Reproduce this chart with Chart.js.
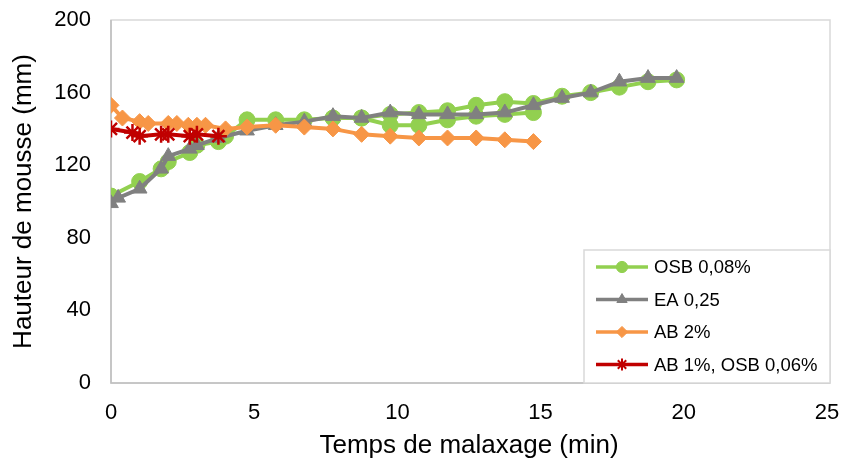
<!DOCTYPE html>
<html>
<head>
<meta charset="utf-8">
<script src="https://cdn.jsdelivr.net/npm/chart.js@4.4.1/dist/chart.umd.min.js"></script>
<style>
  html, body { margin: 0; background: #fff; }
</style>
</head>
<body>
<canvas id="chart" width="845" height="462"></canvas>
<script>
// temps de malaxage (min) / hauteur de mousse (mm)
const osbTime   = [0, 1, 1.75, 2, 2.75, 3, 3.75, 4, 4.75, 5.75, 6.75, 7.75, 8.75, 9.75, 10.75, 11.75, 12.75, 13.75, 14.75, 15.75, 16.75, 17.75, 18.75, 19.75];
const osbHeight = [103, 111, 118, 122, 127, 131, 133, 136, 145, 145, 145, 146, 146, 148, 149, 150, 153, 155, 154, 158, 160, 163, 166, 167];
// second run of OSB 0,08% (same style, not in legend)
const osbBisTime   = [8.75, 9.75, 10.75, 11.75, 12.75, 13.75, 14.75];
const osbBisHeight = [146, 142, 142, 145, 147, 148, 149];

const eaTime   = [0, 0.25, 1, 1.75, 2, 2.75, 3, 3.75, 4.75, 5.75, 6.75, 7.75, 8.75, 9.75, 10.75, 11.75, 12.75, 13.75, 14.75, 15.75, 16.75, 17.75, 18.75, 19.75];
const eaHeight = [99, 102, 107, 118, 125, 129, 131, 135, 139, 142, 144, 147, 146, 149, 148, 148, 148, 149, 153, 157, 160, 166, 168, 168];

const abTime   = [0, 0.4, 1, 1.3, 2, 2.3, 2.7, 3, 3.3, 4, 4.75, 5.75, 6.75, 7.75, 8.75, 9.75, 10.75, 11.75, 12.75, 13.75, 14.75];
const abHeight = [153, 146, 144, 143, 143, 143, 142, 142, 142, 140, 141, 142, 141, 140, 137, 136, 135, 135, 135, 134, 133];

const abOsbTime   = [0, 0.75, 1, 1.75, 2, 2.75, 3, 3.75];
const abOsbHeight = [140, 138, 136, 137, 137, 136, 137, 136];

const xTicks = [0, 5, 10, 15, 20, 25];
const yTicks = [0, 40, 80, 120, 160, 200];

const FONT = 'Arial, "Liberation Sans", sans-serif';
const pts = (xs, ys) => xs.map((x, i) => ({ x: x, y: ys[i] }));

const serie = (label, data, color, style, radius, order, extra) => Object.assign({
    label: label,
    data: data,
    showLine: true,
    borderColor: color,
    backgroundColor: color,
    borderWidth: 4,
    pointStyle: style,
    pointRadius: radius,
    pointHoverRadius: radius,
    pointBorderWidth: style === 'star' ? 2.5 : 1,
    order: order
}, extra || {});

const framePlugin = {
    id: 'framePlugin',
    beforeDatasetsDraw: (chart) => {
        const { ctx, chartArea: { left, top, right, bottom } } = chart;
        ctx.save();
        ctx.strokeStyle = '#d9d9d9';
        ctx.lineWidth = 1.5;
        ctx.strokeRect(left, top, right - left + 3, bottom - top);
        ctx.strokeStyle = '#bfbfbf';
        ctx.beginPath();
        ctx.moveTo(left, top); ctx.lineTo(left, bottom); ctx.lineTo(right + 3, bottom);
        ctx.stroke();
        ctx.restore();
    }
};

const legendPlugin = {
    id: 'legendPlugin',
    afterDraw: (chart) => {
        const { ctx, chartArea: { right, bottom } } = chart;
        const items = chart.data.datasets.filter(d => !d.legendHidden);
        const boxW = 246, rowH = 32.5;
        const boxH = items.length * rowH + 3;
        const bx = right - boxW + 3, by = bottom - boxH;
        ctx.save();
        ctx.fillStyle = '#fff';
        ctx.fillRect(bx, by, boxW, boxH);
        ctx.strokeStyle = '#d9d9d9';
        ctx.lineWidth = 1.5;
        ctx.strokeRect(bx, by, boxW, boxH);
        ctx.font = '18.5px ' + FONT;
        ctx.textBaseline = 'middle';
        items.forEach((d, i) => {
            const cy = by + 17 + i * rowH;
            ctx.strokeStyle = d.borderColor;
            ctx.lineWidth = 3.5;
            ctx.beginPath();
            ctx.moveTo(bx + 12, cy); ctx.lineTo(bx + 64, cy);
            ctx.stroke();
            ctx.fillStyle = d.backgroundColor;
            ctx.strokeStyle = d.borderColor;
            ctx.lineWidth = d.pointStyle === 'star' ? 2 : 1;
            Chart.helpers.drawPoint(ctx, {
                pointStyle: d.pointStyle,
                radius: d.pointRadius * 0.7,
                borderWidth: ctx.lineWidth,
                rotation: 0
            }, bx + 38, cy);
            ctx.fillStyle = '#000';
            ctx.fillText(d.label, bx + 70, cy + 1);
        });
        ctx.restore();
    }
};

new Chart(document.getElementById('chart').getContext('2d'), {
    type: 'scatter',
    data: {
        datasets: [
            serie('OSB 0,08%', pts(osbTime, osbHeight), '#92d050', 'circle', 8, 4),
            serie('OSB 0,08% bis', pts(osbBisTime, osbBisHeight), '#92d050', 'circle', 8, 5, { legendHidden: true }),
            serie('EA 0,25', pts(eaTime, eaHeight), '#808080', 'triangle', 8.5, 3),
            serie('AB 2%', pts(abTime, abHeight), '#f79646', 'rectRot', 8, 2),
            serie('AB 1%, OSB 0,06%', pts(abOsbTime, abOsbHeight), '#c00000', 'star', 8.5, 1)
        ]
    },
    options: {
        responsive: false,
        animation: false,
        layout: { padding: { top: 20, right: 18, left: 0, bottom: 0 } },
        plugins: {
            legend: { display: false },
            tooltip: { enabled: false }
        },
        scales: {
            x: {
                type: 'linear',
                min: 0,
                max: 25,
                afterFit: (s) => { s.height = 79; s.paddingLeft = 0; s.paddingRight = 0; },
                afterBuildTicks: (s) => { s.ticks = xTicks.map(v => ({ value: v })); },
                grid: { display: false, drawTicks: false },
                border: { display: false },
                ticks: { padding: 17, color: '#000', font: { family: FONT, size: 22 } },
                title: {
                    display: true,
                    text: 'Temps de malaxage (min)',
                    color: '#000',
                    font: { family: FONT, size: 26 },
                    padding: { top: 0, bottom: 1 }
                }
            },
            y: {
                type: 'linear',
                min: 0,
                max: 200,
                afterFit: (s) => { s.width = 111; s.paddingTop = 0; s.paddingBottom = 0; },
                afterBuildTicks: (s) => { s.ticks = yTicks.map(v => ({ value: v })); },
                grid: { display: false, drawTicks: false },
                border: { display: false },
                ticks: { padding: 20, color: '#000', font: { family: FONT, size: 22 } },
                title: {
                    display: true,
                    text: 'Hauteur de mousse (mm)',
                    color: '#000',
                    font: { family: FONT, size: 26 },
                    padding: { top: 8, bottom: 0 }
                }
            }
        }
    },
    plugins: [framePlugin, legendPlugin]
});
</script>
</body>
</html>
